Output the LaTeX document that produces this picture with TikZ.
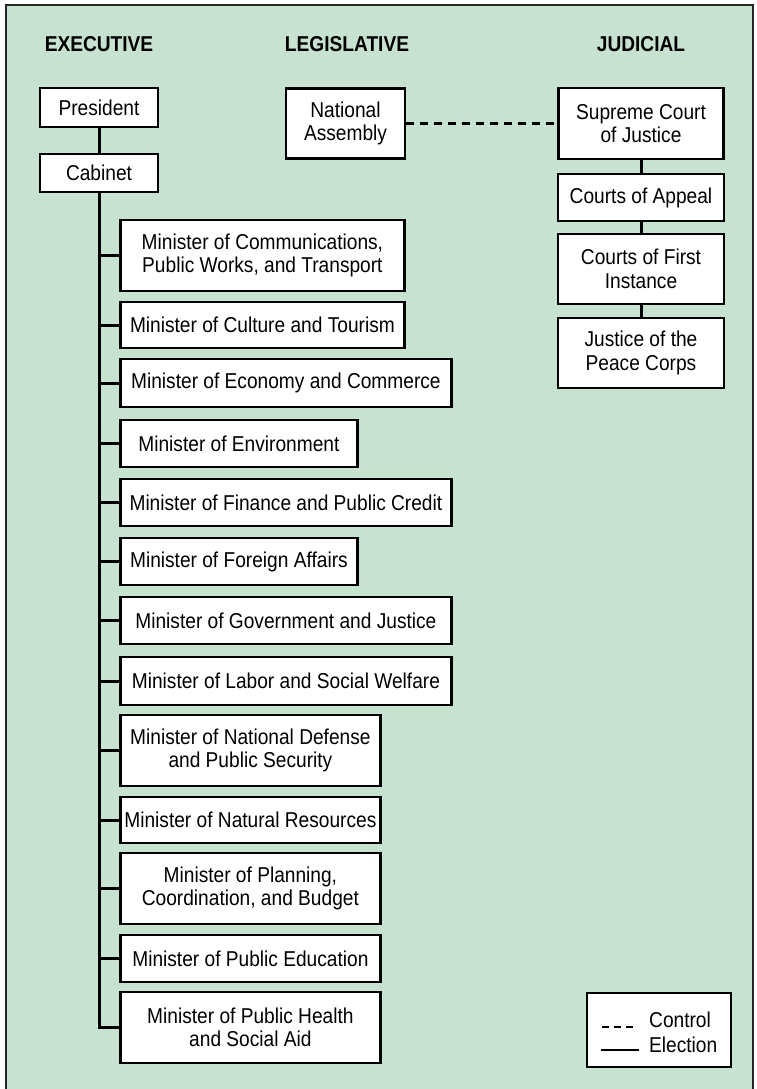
\documentclass[tikz,border=0pt]{standalone}
\usepackage{fontspec}
\setmainfont{Liberation Sans}[FakeStretch=0.89]
\definecolor{panel}{RGB}{200,226,210}
\tikzset{
 box/.style={draw, fill=white, line width=2.8pt, inner sep=0pt, align=center,
  font=\fontsize{21.5}{23.5}\selectfont},
 head/.style={font=\bfseries\fontsize{21.5}{24}\selectfont},
 link/.style={line width=3pt},
 keytext/.style={inner sep=0pt, anchor=base west, font=\fontsize{21.5}{24}\selectfont},
}

\begin{document}
\begin{tikzpicture}[x=1pt,y=-1pt,line cap=rect]
\useasboundingbox (0,0) rectangle (757,1089);
\fill[panel] (6,5) rectangle (753,1089);
\draw[line width=2pt, black!85] (6,1089) -- (6,5) -- (753,5) -- (753,1089);

 % branch headings
 \node[head] (exec) at (99,44) {EXECUTIVE};
 \node[head] (legis) at (347,44) {LEGISLATIVE};
 \node[head] (jud) at (641,44) {JUDICIAL};

 \begin{scope}
 \node[box, minimum width=118pt, minimum height=39pt] (pres) at (99,107.5) {President};
 \node[box, minimum width=118pt, minimum height=38pt] (cab) at (99,173) {Cabinet};
 \draw[link] (pres.south) -- (cab.north);
 \foreach \i/\y/\w/\h/\txt in {
  1/255.5/284/71/{Minister of Communications,\\Public Works, and Transport},
  2/325/284/46/{Minister of Culture and Tourism},
  3/383/331/48/{Minister of Economy and Commerce},
  4/443.5/237/47/{Minister of Environment},
  5/502.5/331/47/{Minister of Finance and Public Credit},
  6/561.5/237/47/{Minister of Foreign Affairs},
  7/620.5/331/47/{Minister of Government and Justice},
  8/681/331/48/{Minister of Labor and Social Welfare},
  9/750.5/260/71/{Minister of National Defense\\and Public Security},
  10/820/260/46/{Minister of Natural Resources},
  11/888.5/260/71/{Minister of Planning,\\Coordination, and Budget},
  12/958.5/260/47/{Minister of Public Education},
  13/1027.5/260/71/{Minister of Public Health\\and Social Aid}} {
  \node[box, anchor=west, minimum width=\w pt, minimum height=\h pt] (m\i) at (119,\y) {\txt};
  \draw[link] (cab.south) |- (m\i.west);
 }
 \end{scope}

 \begin{scope}
 \node[box, minimum width=119pt, minimum height=70pt] (na) at (345.5,123.5) {National\\Assembly};
 \node[box, minimum width=165pt, minimum height=71pt] (sc) at (641,123.5) {Supreme Court\\of Justice};
 \node[box, minimum width=166pt, minimum height=47pt] (coa) at (641,197.5) {Courts of Appeal};
 \node[box, minimum width=166pt, minimum height=70pt] (cfi) at (641,269) {Courts of First\\Instance};
 \node[box, minimum width=166pt, minimum height=70pt] (jpc) at (641,353) {Justice of the\\Peace Corps};
 \draw[link, line cap=butt, dash pattern=on 8pt off 6pt] (na.east) -- (sc.west);
 \draw[link] (sc.south) -- (coa.north);
 \draw[link] (coa.south) -- (cfi.north);
 \draw[link] (cfi.south) -- (jpc.north);
 \end{scope}

 % key
 \node[box, minimum width=144pt, minimum height=74pt] (key) at (659,1030) {};
 \node[keytext] (ctl) at (649,1027) {Control};
 \node[keytext] (elc) at (649,1052) {Election};
 \coordinate (kd) at (602,1027);
 \coordinate (ks) at (602,1050);
 \draw[line width=2pt, line cap=butt, dash pattern=on 7pt off 5pt] (kd) -- ++(36,0);
 \draw[line width=2pt] (ks) -- ++(36,0);

\end{tikzpicture}
\end{document}
